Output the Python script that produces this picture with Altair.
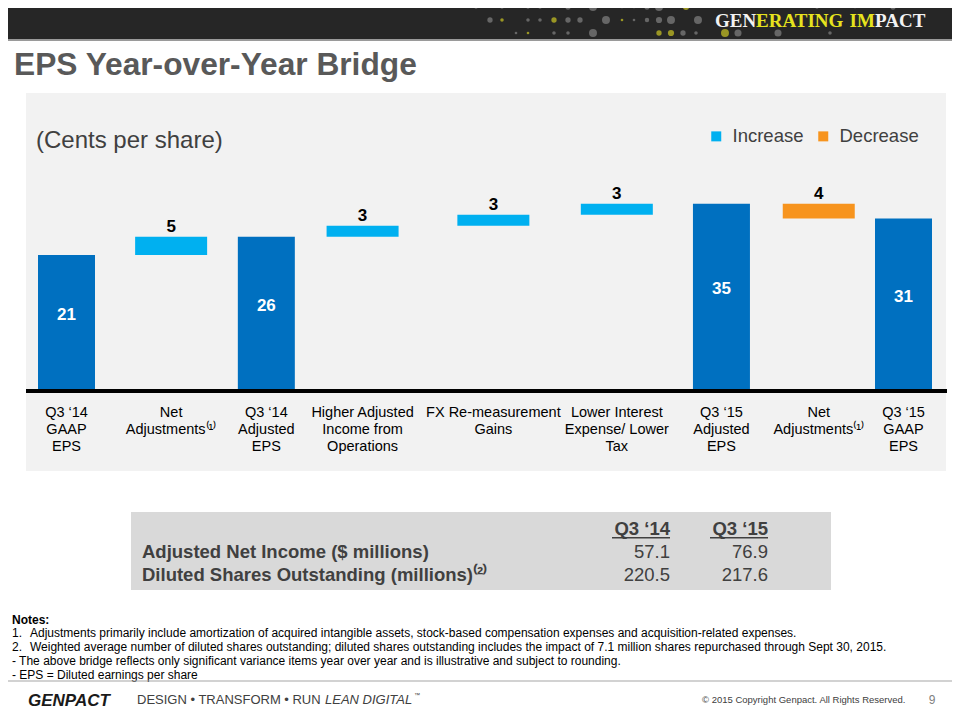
import altair as alt
import pandas as pd

# ---------------- data ----------------
step_labels = [
    "Q3 ‘14\nGAAP\nEPS",
    "Net\nAdjustments⁽¹⁾",
    "Q3 ‘14\nAdjusted\nEPS",
    "Higher Adjusted\nIncome from\nOperations",
    "FX Re-measurement\nGains",
    "Lower Interest\nExpense/ Lower\nTax",
    "Q3 ‘15\nAdjusted\nEPS",
    "Net\nAdjustments⁽¹⁾",
    "Q3 ‘15\nGAAP\nEPS",
]
step_values = [21, 5, 26, 3, 3, 3, 35, -4, 31]
step_kinds = ["Total", "Increase", "Total", "Increase", "Increase", "Increase", "Total", "Decrease", "Total"]

table_rows = ["Adjusted Net Income ($ millions)", "Diluted Shares Outstanding (millions)⁽²⁾"]
table_cols = ["Q3 ‘14", "Q3 ‘15"]
q3_14_vals = [57.1, 220.5]
q3_15_vals = [76.9, 217.6]

notes = [
    ("1.", "Adjustments primarily include amortization of acquired intangible assets, stock-based compensation expenses and acquisition-related expenses."),
    ("2.", "Weighted average number of diluted shares outstanding; diluted shares outstanding includes the impact of 7.1 million shares repurchased through Sept 30, 2015."),
    ("", "- The above bridge reflects only significant variance items year over year and is illustrative and subject to rounding."),
    ("", "- EPS = Diluted earnings per share"),
]

# ---------------- layout / style (not data) ----------------
# column slots of the bridge (the slide spaces its columns unevenly)
SLOTS = [0, 1, 1.91, 2.83, 4.08, 5.26, 6.26, 7.19, 8]

# decorative header dots
dot_x = [476, 502, 528, 540, 568, 593, 622, 634, 647, 659, 686, 817, 855, 893,
         490, 502, 528, 540, 554, 568, 580, 606, 622, 634, 647, 659, 671, 698,
         516, 528, 554, 568, 593, 659, 671, 683, 696, 725, 738, 778, 830]
dot_y = [7] * 14 + [20] * 14 + [33] * 13
dot_r = [2, 2, 2, 2, 3, 4.5, 1.5, 1.5, 3, 4.5, 3.5, 2, 1.5, 3,
         3, 2, 2, 2, 3, 3, 3, 4.5, 1.5, 1.5, 2.5, 3.5, 4.5, 4.5,
         1.5, 1.5, 2, 2, 4.5, 3, 3.5, 3, 2, 4.5, 4, 4, 2]
dot_olive = [0, 0, 0, 0, 0, 0, 0, 0, 0, 0, 1, 0, 0, 0,
             0, 1, 0, 0, 1, 0, 0, 0, 1, 0, 0, 0, 0, 0,
             0, 1, 0, 0, 0, 1, 1, 0, 0, 1, 0, 0, 0]

# ---------------- build tables ----------------
Y_MIN, Y_MAX = -16, 35
rows = []
running = 0
for i, (lab, v, k) in enumerate(zip(step_labels, step_values, step_kinds)):
    if k == "Total":
        start, end = Y_MIN, v
        running = v
    else:
        start, end = running, running + v
        running = end
    rows.append(dict(slot=SLOTS[i], label=lab, kind=k, start=start, end=end,
                     top=max(start, end), mid=(start + end) / 2, txt=str(abs(v))))
df = pd.DataFrame(rows)
totals = df[df.kind == "Total"]
changes = df[df.kind != "Total"]

FONT = "Liberation Sans"
OFF = 8  # page margin

xscale = alt.Scale(domain=[0, 8], range=[58.5, 895.5], nice=False, zero=False, padding=0)
yscale = alt.Scale(domain=[Y_MIN, Y_MAX], range=[383, 195.7], nice=False, zero=False)
X = alt.X("slot:Q", scale=xscale, axis=None)


def txt(text, x, y, size, color="#000000", weight="normal", align="left",
        style="normal", font=FONT, baseline="alphabetic"):
    return alt.Chart(pd.DataFrame({"t": [text]})).mark_text(
        font=font, fontSize=size, color=color, fontWeight=weight, align=align,
        fontStyle=style, baseline=baseline
    ).encode(x=alt.value(x - OFF), y=alt.value(y - OFF), text="t:N")


def box(x0, x1, y0, y1, color):
    return alt.Chart(pd.DataFrame({"a": [0]})).mark_rect(color=color).encode(
        x=alt.value(x0 - OFF), x2=alt.value(x1 - OFF),
        y=alt.value(y0 - OFF), y2=alt.value(y1 - OFF))


# header
header = box(0, 960, 0, 39, "#262626")
header_line = box(0, 960, 39, 41, "#9a9a9a")
dots_df = pd.DataFrame({"x": [v - OFF for v in dot_x], "y": [v - OFF for v in dot_y],
                        "s": [3.14159 * r * r for r in dot_r],
                        "c": ["#9a9624" if o else "#666666" for o in dot_olive]})
dots = alt.Chart(dots_df).mark_circle(opacity=1).encode(
    x=alt.X("x:Q", scale=None), y=alt.Y("y:Q", scale=None),
    size=alt.Size("s:Q", scale=None), color=alt.Color("c:N", scale=None))

hdr_font = "Liberation Serif"
gen = [txt("GEN", 715, 27, 19, "#f2f2f2", "bold", font=hdr_font),
       txt("ERATING", 756, 27, 19, "#e6e31e", "bold", font=hdr_font),
       txt("IM", 849.5, 27, 19, "#e6e31e", "bold", font=hdr_font),
       txt("PACT", 875, 27, 19, "#f2f2f2", "bold", font=hdr_font)]

title = txt("EPS Year-over-Year Bridge", 14, 75, 31.7, "#595959", "bold")

panel = box(26, 946, 93, 471, "#f2f2f2")
subtitle = txt("(Cents per share)", 36, 148, 24, "#404040")

# bridge
total_bars = alt.Chart(totals).mark_bar(size=57, color="#0070C0").encode(
    x=X, y=alt.Y("end:Q", scale=yscale, axis=None), y2="start:Q")
change_bars = alt.Chart(changes).mark_bar(size=72).encode(
    x=X, y=alt.Y("start:Q", scale=yscale, axis=None), y2="end:Q",
    color=alt.Color("kind:N",
                    scale=alt.Scale(domain=["Increase", "Decrease"], range=["#00B0F0", "#F7941E"]),
                    legend=alt.Legend(title=None, orient="none", legendX=699, legendY=119,
                                      direction="horizontal", symbolType="square",
                                      symbolSize=100, symbolStrokeWidth=0, symbolOpacity=1,
                                      labelFontSize=18.5, labelFont=FONT, labelColor="#404040",
                                      labelOffset=7, columnPadding=10, padding=0)))
baseline_rule = alt.Chart(pd.DataFrame({"b": [Y_MIN]})).mark_rule(
    color="#000000", strokeWidth=4).encode(
    y=alt.Y("b:Q", scale=yscale, axis=None), x=alt.value(26 - OFF), x2=alt.value(947 - OFF))
change_labels = alt.Chart(changes).mark_text(
    font=FONT, fontSize=17, fontWeight="bold", color="#000000", dy=-10).encode(
    x=X, y=alt.Y("top:Q", scale=yscale, axis=None), text="txt:N")
total_labels = alt.Chart(totals).mark_text(
    font=FONT, fontSize=17, fontWeight="bold", color="#ffffff", baseline="middle", dy=-8).encode(
    x=X, y=alt.Y("mid:Q", scale=yscale, axis=None), text="txt:N")
cat_labels = alt.Chart(df).mark_text(
    font=FONT, fontSize=14.5, color="#000000", lineBreak="\n", lineHeight=17,
    baseline="alphabetic").encode(x=X, y=alt.value(416.5 - OFF), text="label:N")

bridge = alt.layer(total_bars, change_bars, baseline_rule, change_labels, total_labels, cat_labels)

# table
tbl = [box(131, 831, 512, 590, "#d9d9d9")]
col_right = [670, 768]
for cx, cname in zip(col_right, table_cols):
    tbl.append(txt(cname, cx, 534.5, 18.5, "#404040", "bold", align="right"))
    tbl.append(box(cx - 58, cx, 537, 538.5, "#404040"))
row_base = [557.5, 580.5]
for ry, rname, a, b in zip(row_base, table_rows, q3_14_vals, q3_15_vals):
    tbl.append(txt(rname, 142, ry, 18.5, "#404040", "bold"))
    tbl.append(txt(f"{a:.1f}", col_right[0], ry, 18.5, "#404040", align="right"))
    tbl.append(txt(f"{b:.1f}", col_right[1], ry, 18.5, "#404040", align="right"))

# notes
nts = [txt("Notes:", 12, 623.5, 12, "#000000", "bold")]
for i, (num, line) in enumerate(notes):
    yb = 636.5 + 14 * i
    if num:
        nts.append(txt(num, 12, yb, 12, "#000000"))
        nts.append(txt(line, 30, yb, 12, "#000000"))
    else:
        nts.append(txt(line, 12, yb, 12, "#000000"))

# footer
footer = [box(0, 960, 680.5, 681.5, "#a6a6a6"),
          txt("GENPACT", 28, 705.5, 17, "#1a1a1a", "bold", style="italic"),
          txt("DESIGN • TRANSFORM • RUN", 137, 704, 13, "#404040"),
          txt("LEAN DIGITAL", 325, 704, 13, "#404040", style="italic"),
          txt("™", 414, 697, 6, "#404040"),
          txt("© 2015 Copyright Genpact. All Rights Reserved.", 702, 703, 9.5, "#404040"),
          txt("9", 932, 703.5, 12, "#7f7f7f", align="center")]

chart = alt.layer(
    header, header_line, dots, *gen, title, panel, subtitle, bridge, *tbl, *nts, *footer
).resolve_scale(x="independent", y="independent", color="independent", size="independent").properties(
    width=944, height=704, autosize=alt.AutoSizeParams(type="none"), padding=0,
    background="#ffffff"
).configure_view(stroke=None)

chart.save("out.html", embed_options={"renderer": "svg", "actions": False})
